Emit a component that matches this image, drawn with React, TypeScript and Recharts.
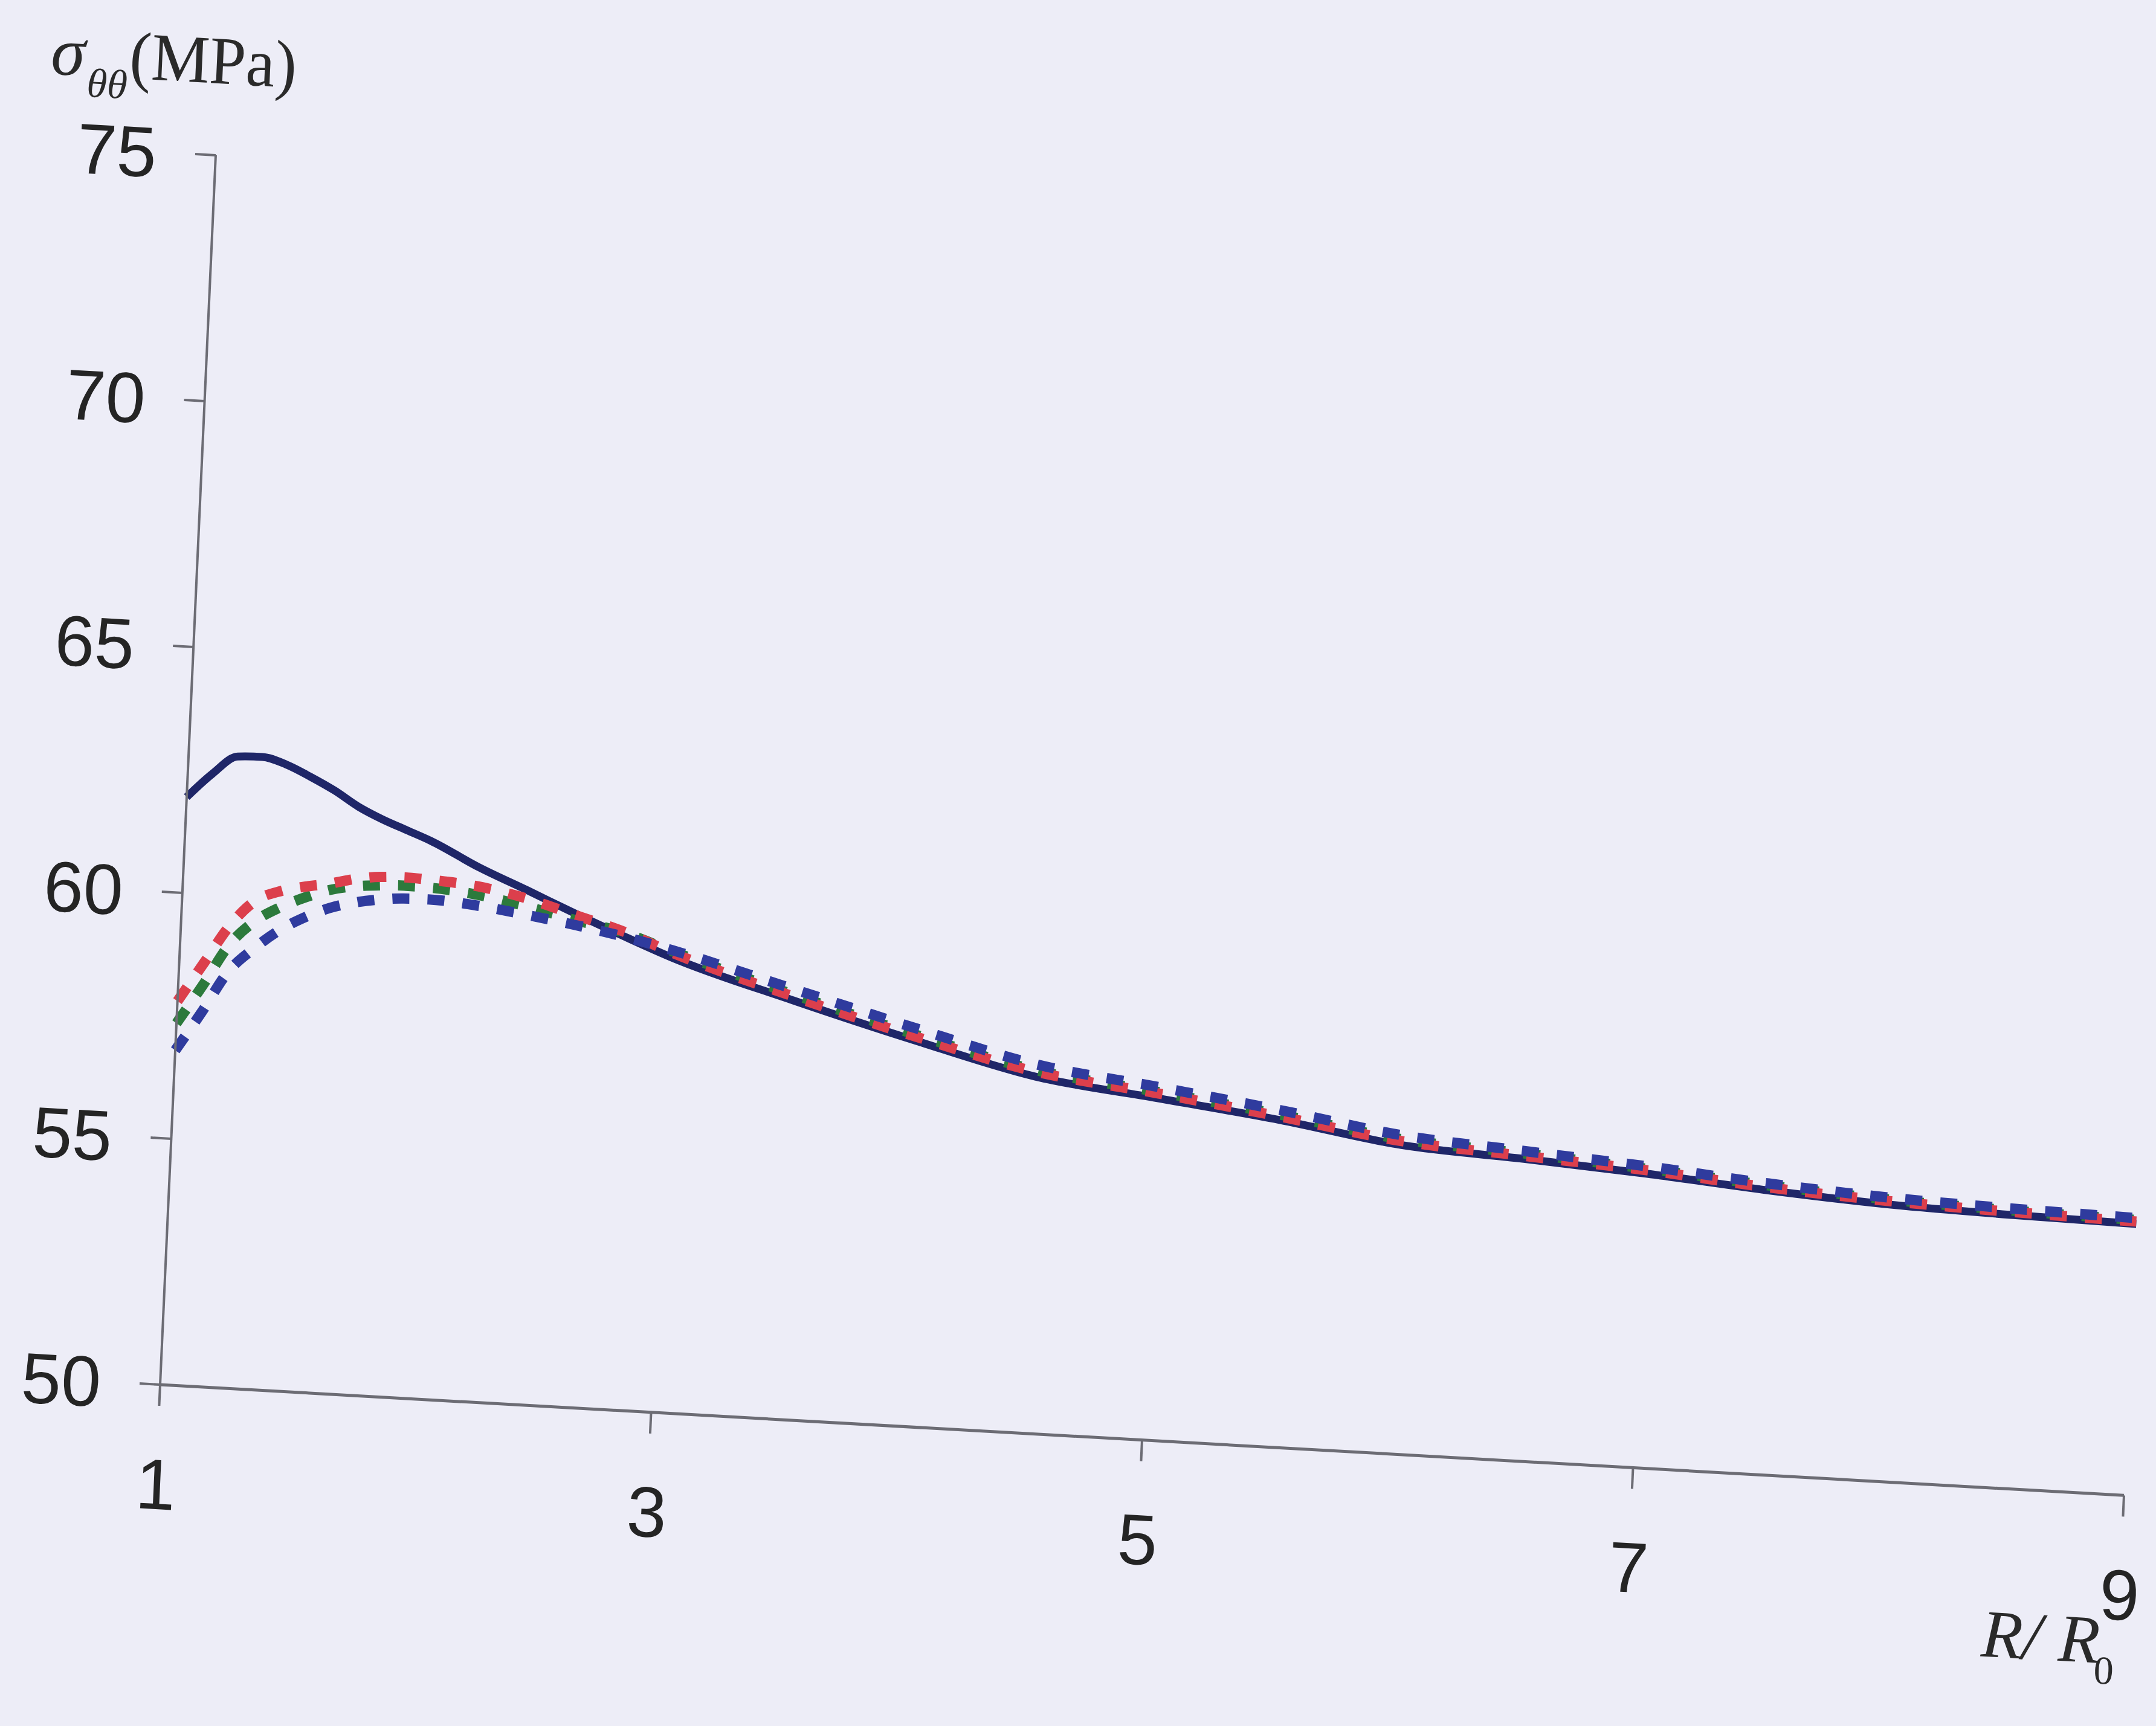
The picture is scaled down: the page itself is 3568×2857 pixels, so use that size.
import { LineChart, Line, XAxis, YAxis } from "recharts";

// R / R0 sample positions
const R_RATIO = [1, 1.1, 1.2, 1.3, 1.4, 1.5, 1.6, 1.7, 1.8, 1.9, 2.0, 2.2, 2.4, 2.6, 2.8, 3.0, 3.5, 4, 4.5, 5, 5.5, 6, 6.5, 7, 7.5, 8, 8.5, 9];

// sigma_theta_theta (MPa), solid navy curve
const SOLID = [61.95, 62.45, 62.83, 62.85, 62.72, 62.5, 62.25, 61.95, 61.72, 61.53, 61.34, 60.86, 60.45, 60.03, 59.63, 59.25, 58.52, 57.85, 57.25, 56.95, 56.65, 56.28, 56.14, 55.98, 55.78, 55.63, 55.56, 55.52];

// dashed curves
const RED = [57.8, 58.6, 59.4, 59.93, 60.15, 60.27, 60.36, 60.48, 60.55, 60.57, 60.55, 60.47, 60.28, 60.0, 59.72, 59.35, 58.6, 57.93, 57.35, 57.05, 56.72, 56.36, 56.2, 56.05, 55.84, 55.7, 55.62, 55.57];
const GREEN = [57.35, 58.15, 59.0, 59.51, 59.82, 60.05, 60.23, 60.33, 60.38, 60.4, 60.39, 60.3, 60.12, 59.9, 59.7, 59.38, 58.64, 57.97, 57.38, 57.08, 56.76, 56.4, 56.25, 56.08, 55.88, 55.73, 55.65, 55.6];
const BLUE = [56.8, 57.6, 58.45, 58.95, 59.35, 59.64, 59.86, 60.0, 60.09, 60.14, 60.15, 60.08, 59.95, 59.8, 59.62, 59.4, 58.75, 58.1, 57.5, 57.18, 56.85, 56.48, 56.3, 56.13, 55.92, 55.77, 55.69, 55.64];

const X_TICKS = [1, 3, 5, 7, 9];
const Y_TICKS = [50, 55, 60, 65, 70, 75];

const data = R_RATIO.map((x, i) => ({
  x,
  solid: SOLID[i],
  red: RED[i],
  green: GREEN[i],
  blue: BLUE[i],
}));

const W = 3568;
const H = 2857;
const AXIS = "#6c6c74";
const tickFont = { fontSize: 118, fill: "#242424", fontFamily: '"Liberation Sans", Arial, sans-serif' };
const dash = "28 30";

export default function App() {
  return (
    <div style={{ position: "absolute", left: 0, top: 0, width: W, height: H, background: "#ededf7", overflow: "hidden" }}>
      {/* the photographed page is slightly tilted, so shear the whole chart around the plot origin */}
      <div
        style={{
          position: "absolute", left: 0, top: 0, width: W, height: H,
          transformOrigin: "265px 2292px",
          transform: "matrix(1, 0.0564, -0.0452, 1, 0, 0)",
        }}
      >
        <LineChart width={W} height={H} data={data} margin={{ top: 257, right: 53, bottom: 365, left: 0 }}>
          <XAxis
            dataKey="x" type="number" domain={[1, 9]} ticks={X_TICKS} interval={0}
            height={200} tickSize={35} tickMargin={87} tick={tickFont}
            axisLine={{ stroke: AXIS, strokeWidth: 5 }} tickLine={{ stroke: AXIS, strokeWidth: 4 }}
          />
          <YAxis
            type="number" domain={[50, 75]} ticks={Y_TICKS} interval={0} allowDataOverflow
            width={265} tickSize={34} tickMargin={64} tick={tickFont}
            axisLine={{ stroke: AXIS, strokeWidth: 4 }} tickLine={{ stroke: AXIS, strokeWidth: 4 }}
          />
          <Line type="monotone" dataKey="solid" stroke="#1f2668" strokeWidth={13} dot={false} isAnimationActive={false} />
          <Line type="monotone" dataKey="green" stroke="#2c7a3c" strokeWidth={17} strokeDasharray={dash} dot={false} isAnimationActive={false} />
          <Line type="monotone" dataKey="red" stroke="#dc3f4c" strokeWidth={17} strokeDasharray={dash} dot={false} isAnimationActive={false} />
          <Line type="monotone" dataKey="blue" stroke="#2f3b9e" strokeWidth={17} strokeDasharray={dash} dot={false} isAnimationActive={false} />
        </LineChart>
        <svg width={W} height={H} style={{ position: "absolute", left: 0, top: 0, overflow: "visible", pointerEvents: "none" }}>
          <g fontFamily='"Liberation Serif", "Times New Roman", serif' fill="#2a2a2a">
            <text x={-14} y={138} fontSize={114} fontStyle="italic">σ</text>
            <text x={47} y={172} fontSize={68} fontStyle="italic">θθ</text>
            <text x={116} y={138} fontSize={112} textLength={276} lengthAdjust="spacingAndGlyphs">(MPa)</text>
            <text x={3290} y={2571} fontSize={112} fontStyle="italic">R/ R</text>
            <text x={3478} y={2605} fontSize={66}>0</text>
          </g>
        </svg>
      </div>
    </div>
  );
}
